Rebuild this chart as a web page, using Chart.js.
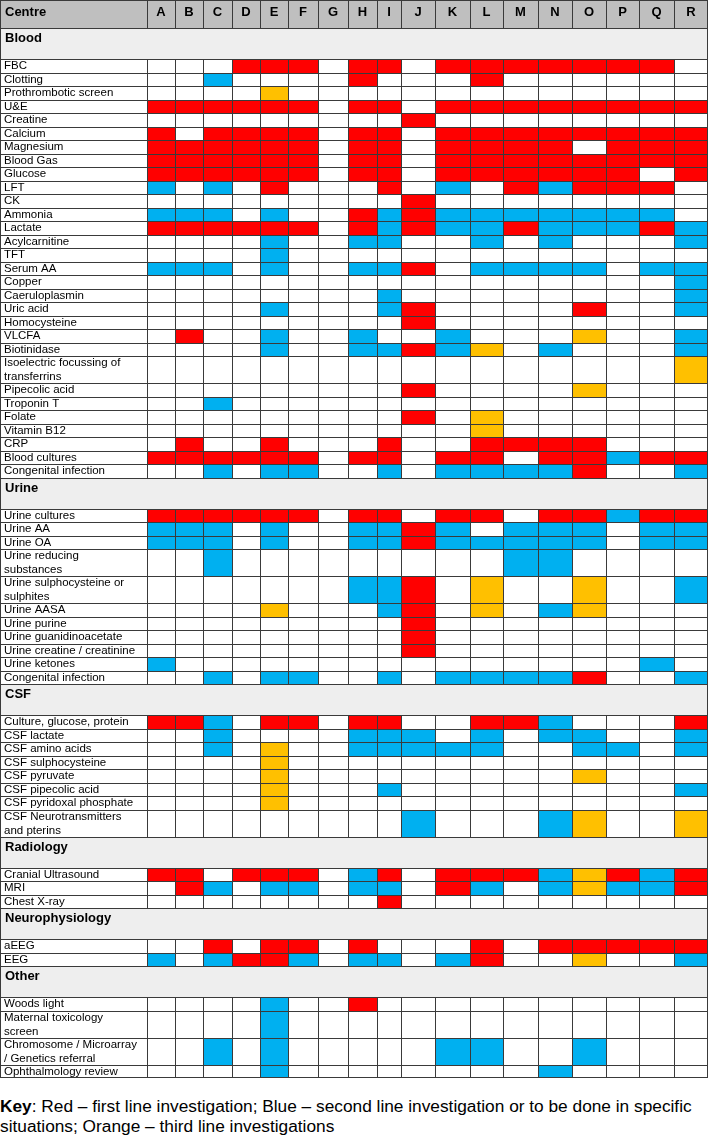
<!DOCTYPE html>
<html>
<head>
<meta charset="utf-8">
<script src="https://cdn.jsdelivr.net/npm/chart.js@4.4.1/dist/chart.umd.min.js"></script>
<style>
  body { margin: 0; background: #fff; font-family: "Liberation Sans", Arial, sans-serif; }
  #wrap { width: 708px; }
  canvas { display: block; }
  #key { margin: 16px 0 0 0; font-size: 17.3px; line-height: 20px; color: #000; }
</style>
</head>
<body>
<div id="wrap">
  <canvas id="tabella" width="708" height="1080"></canvas>
  <p id="key"><b>Key</b>: Red – first line investigation; Blue – second line investigation or to be done in specific situations; Orange – third line investigations</p>
</div>
<script>
// centres (columns)
const centres = ['A', 'B', 'C', 'D', 'E', 'F', 'G', 'H', 'I', 'J', 'K', 'L', 'M', 'N', 'O', 'P', 'Q', 'R'];

// one char per centre: R = first line, B = second line, O = third line, . = not done
const bloodTests = ['FBC', 'Clotting', 'Prothrombotic screen', 'U&E', 'Creatine', 'Calcium', 'Magnesium',
  'Blood Gas', 'Glucose', 'LFT', 'CK', 'Ammonia', 'Lactate', 'Acylcarnitine', 'TFT', 'Serum AA', 'Copper',
  'Caeruloplasmin', 'Uric acid', 'Homocysteine', 'VLCFA', 'Biotinidase', 'Isoelectric focussing of\ntransferrins',
  'Pipecolic acid', 'Troponin T', 'Folate', 'Vitamin B12', 'CRP', 'Blood cultures', 'Congenital infection'];
const bloodCodes = [
  '...RRR.RR.RRRRRRR.', '..B....R...R......', '....O.............', 'RRRRRR.RR.RRRRRRRR',
  '.........R........', 'R.RRRR.RR.RRRRRRRR', 'RRRRRR.RR.RRRR.RRR', 'RRRRRR.RR.RRRRRRRR',
  'RRRRRR.RR.RRRRRR.R', 'B.B.R...R.B.RBRRR.', '.........R........', 'BBB.B..RBRBBBBBBB.',
  'RRRRRR.RBRBBRBBBRB', '....B..BB..B.B...B', '....B.............', 'BBB.B..BBR.BBBB.BB',
  '.................B', '........B........B', '....B...BR....R..B', '.........R........',
  '.R..B..B..B...O..B', '....B..BBRBO.B...B', '.................O', '.........R....O...',
  '..B...............', '.........R.O......', '...........O......', '.R..R...R..RRRR...',
  'RRRRRR.RR.RR.RRBRR', '..B.BB..B.BBBBR..B'];

const urineTests = ['Urine cultures', 'Urine AA', 'Urine OA', 'Urine reducing\nsubstances',
  'Urine sulphocysteine or\nsulphites', 'Urine AASA', 'Urine purine', 'Urine guanidinoacetate',
  'Urine creatine / creatinine', 'Urine ketones', 'Congenital infection'];
const urineCodes = [
  'RRRRRR.RR.RR.RRBRR', 'BBB.B..BBRB.BBB.BB', 'BBB.B..BBRBBBBB.BB', '..B.........BB....',
  '.......BBR.O..O..B', '....O...BR.O.BO...', '.........R........', '.........R........',
  '.........R........', 'B...............B.', '..B.BB..B.BBBBR..B'];

const csfTests = ['Culture, glucose, protein', 'CSF lactate', 'CSF amino acids', 'CSF sulphocysteine',
  'CSF pyruvate', 'CSF pipecolic acid', 'CSF pyridoxal phosphate', 'CSF Neurotransmitters\nand pterins'];
const csfCodes = [
  'RRB.RR.RR..RRB...R', '..B....BBB.B.BB..B', '..B.O..BBBBB..BB.B', '....O.............',
  '....O.........O...', '....O...B........B', '....O.............', '.........B...BO..O'];

const radiologyTests = ['Cranial Ultrasound', 'MRI', 'Chest X-ray'];
const radiologyCodes = ['RR.RRR.BR.RRRBORBR', '.RB.BB.BB.RB.BOBBR', '........R.........'];

const neuroTests = ['aEEG', 'EEG'];
const neuroCodes = ['..R.RR.R...R.RRRRR', 'B.BRRB.BB.BR..O..B'];

const otherTests = ['Woods light', 'Maternal toxicology\nscreen', 'Chromosome / Microarray\n/ Genetics referral',
  'Ophthalmology review'];
const otherCodes = ['....B..R..........', '....B.............', '..B.B.....BB..B...', '....B........B....'];

const sections = [
  ['Blood', bloodTests, bloodCodes],
  ['Urine', urineTests, urineCodes],
  ['CSF', csfTests, csfCodes],
  ['Radiology', radiologyTests, radiologyCodes],
  ['Neurophysiology', neuroTests, neuroCodes],
  ['Other', otherTests, otherCodes]
];

// layout (pixels)
const W = 708, H = 1080;
const colEdges = [0, 147, 175, 203, 232, 260, 288, 318, 348, 377, 401, 435, 470, 503, 538, 572, 606, 639, 674, 708];
const fills = { R: '#ff0000', B: '#00b0f0', O: '#ffc000', '.': '#ffffff' };
const fontFam = '"Liberation Sans", Arial, sans-serif';

const rows = [];
let yPos = 0;
function addRow(kind, label, codes, h) {
  rows.push({ kind, label, codes, top: Math.round(yPos), bottom: Math.round(yPos + h) });
  yPos += h;
}
addRow('header', 'Centre', null, 28);
sections.forEach(([name, tests, codes]) => {
  addRow('section', name, null, 31);
  tests.forEach((t, i) => addRow('test', t, codes[i], 13.5 * t.split('\n').length));
});

const datasets = rows.map((row, r) => {
  const mid = (row.top + row.bottom) / 2;
  const last = r === rows.length - 1;
  const cells = [];
  if (row.kind === 'section') {
    cells.push({ x: [0, W], y: mid, fill: '#eeeeee', right: 1 });
  } else {
    for (let c = 0; c < colEdges.length - 1; c++) {
      let fill = '#ffffff';
      if (row.kind === 'header') fill = '#bfbfbf';
      else if (c > 0) fill = fills[row.codes[c - 1]];
      cells.push({ x: [colEdges[c], colEdges[c + 1]], y: mid, fill, right: c === colEdges.length - 2 ? 1 : 0 });
    }
  }
  return {
    label: row.label,
    data: cells,
    barThickness: row.bottom - row.top,
    grouped: false,
    inflateAmount: 0,
    borderSkipped: false,
    borderColor: '#3a3a3a',
    backgroundColor: cells.map(c => c.fill),
    borderWidth: cells.map(c => ({ top: 1, left: 1, right: c.right, bottom: last ? 1 : 0 }))
  };
});

const tableText = {
  id: 'tableText',
  afterDatasetsDraw(chart) {
    const { ctx, scales: { x, y } } = chart;
    ctx.save();
    ctx.fillStyle = '#000';
    ctx.textBaseline = 'middle';
    rows.forEach(row => {
      if (row.kind === 'header') {
        ctx.font = 'bold 13px ' + fontFam;
        ctx.textAlign = 'left';
        ctx.fillText(row.label, x.getPixelForValue(5), y.getPixelForValue(row.top + 12));
        ctx.textAlign = 'center';
        centres.forEach((c, i) => {
          ctx.fillText(c, x.getPixelForValue((colEdges[i + 1] + colEdges[i + 2]) / 2), y.getPixelForValue(row.top + 12));
        });
      } else if (row.kind === 'section') {
        ctx.font = 'bold 13px ' + fontFam;
        ctx.textAlign = 'left';
        ctx.fillText(row.label, x.getPixelForValue(5), y.getPixelForValue(row.top + 10));
      } else {
        ctx.font = '11.5px ' + fontFam;
        ctx.textAlign = 'left';
        row.label.split('\n').forEach((line, k) => {
          ctx.fillText(line, x.getPixelForValue(4), y.getPixelForValue(row.top + 7 + k * 13.5));
        });
      }
    });
    ctx.restore();
  }
};

new Chart(document.getElementById('tabella'), {
  type: 'bar',
  data: { datasets },
  options: {
    indexAxis: 'y',
    responsive: false,
    animation: false,
    layout: { padding: 0 },
    scales: {
      x: { type: 'linear', min: 0, max: W, display: false },
      y: { type: 'linear', min: 0, max: H, reverse: true, offset: false, display: false }
    },
    plugins: {
      legend: { display: false },
      tooltip: { enabled: false }
    }
  },
  plugins: [tableText]
});
</script>
</body>
</html>
